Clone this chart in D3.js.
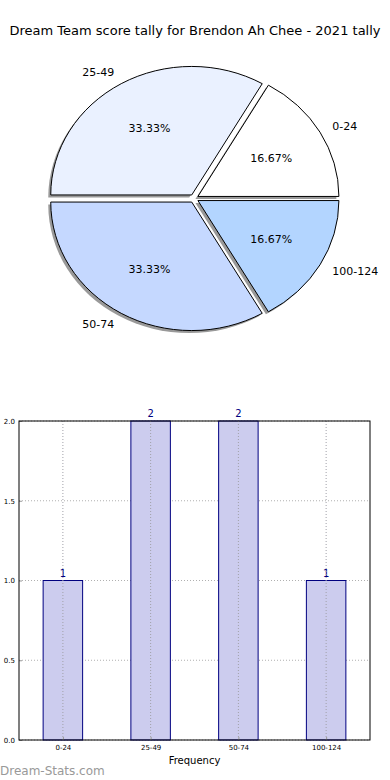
<!DOCTYPE html>
<html>
<head>
<meta charset="utf-8">
<script src="https://cdn.jsdelivr.net/npm/d3@7"></script>
<style>
  body { margin: 0; background: #fff; }
  svg { display: block; font-family: "DejaVu Sans", sans-serif; }
</style>
</head>
<body>
<div class="js-chart"></div>
<script>
// chart data
let categories = ['0-24', '25-49', '50-74', '100-124'];
let counts = [1, 2, 2, 1];
let sliceColors = ['#ffffff', '#eaf1ff', '#c5d8ff', '#b3d5ff'];
let yTicks = [0, 0.5, 1.0, 1.5, 2.0];
let titleText = 'Dream Team score tally for Brendon Ah Chee - 2021 tally';

let w = 390, h = 780;

let svg = d3.select('.js-chart').append('svg').attr('width', w).attr('height', h);

svg.append('text')
  .attr('x', 195).attr('y', 35)
  .attr('text-anchor', 'middle')
  .style('font-size', '13px')
  .text(titleText);

// ---- pie (elliptical, exploded, with shadow) ----
let cx = 194, cy = 198.5, rx = 141, ry = 128.5, explode = 0.032;
let total = d3.sum(counts);

// matplotlib starts at 3 o'clock going counter-clockwise
let pie = d3.pie().sort(null).startAngle(Math.PI / 2).endAngle(Math.PI / 2 - 2 * Math.PI);
let arcs = pie(counts);
let unitArc = d3.arc().innerRadius(0).outerRadius(1);

let pieG = svg.append('g');

function sliceOrigin(a) {
  let mid = (a.startAngle + a.endAngle) / 2;
  let ux = Math.sin(mid), uy = -Math.cos(mid);
  return {ux: ux, uy: uy, ox: cx + explode * rx * ux, oy: cy + explode * ry * uy};
}

// shadows first
arcs.forEach((a) => {
  let o = sliceOrigin(a);
  pieG.append('path')
    .attr('d', unitArc(a))
    .attr('transform', `translate(${o.ox - 2.5},${o.oy + 2.5}) scale(${rx},${ry})`)
    .style('fill', '#555')
    .style('opacity', 0.6);
});

arcs.forEach((a, i) => {
  let o = sliceOrigin(a);

  pieG.append('path')
    .attr('d', unitArc(a))
    .attr('transform', `translate(${o.ox},${o.oy}) scale(${rx},${ry})`)
    .attr('vector-effect', 'non-scaling-stroke')
    .style('fill', sliceColors[i])
    .style('stroke', '#000')
    .style('stroke-width', 1);

  // category label
  pieG.append('text')
    .attr('x', o.ox + 1.1 * rx * o.ux).attr('y', o.oy + 1.1 * ry * o.uy)
    .attr('dy', '0.35em')
    .attr('text-anchor', o.ux > 0 ? 'start' : 'end')
    .style('font-size', '11px')
    .text(categories[i]);

  // percentage label
  pieG.append('text')
    .attr('x', o.ox + 0.6 * rx * o.ux).attr('y', o.oy + 0.6 * ry * o.uy)
    .attr('dy', '0.35em')
    .attr('text-anchor', 'middle')
    .style('font-size', '11px')
    .text((counts[i] / total * 100).toFixed(2) + '%');
});

// ---- bar chart ----
let plotLeft = 19, plotRight = 370, plotTop = 421, plotBottom = 740;
let x = d3.scaleLinear().domain([-0.5, categories.length - 0.5]).range([plotLeft, plotRight]);
let y = d3.scaleLinear().domain([0, 2]).range([plotBottom, plotTop]);
let barW = 0.45;

let grid = svg.append('g');
yTicks.forEach(t => {
  grid.append('line')
    .attr('x1', plotLeft).attr('x2', plotRight).attr('y1', y(t)).attr('y2', y(t))
    .style('stroke', '#b0b0b0').style('stroke-dasharray', '1,2');
});

let bars = svg.append('g');
categories.forEach((c, i) => {
  bars.append('rect')
    .attr('x', x(i - barW / 2))
    .attr('y', y(counts[i]))
    .attr('width', x(i + barW / 2) - x(i - barW / 2))
    .attr('height', y(0) - y(counts[i]))
    .style('fill', '#ccccee')
    .style('stroke', '#000080')
    .style('stroke-width', 1);

  bars.append('text')
    .attr('x', x(i)).attr('y', y(counts[i]) - 4)
    .attr('text-anchor', 'middle')
    .style('font-size', '10px')
    .style('fill', '#000080')
    .text(counts[i]);
});

// vertical grid drawn over the bars
categories.forEach((c, i) => {
  svg.append('line')
    .attr('x1', x(i)).attr('x2', x(i)).attr('y1', plotTop).attr('y2', plotBottom)
    .style('stroke', '#a0a0a8').style('stroke-dasharray', '1,2');
});

let yAxis = svg.append('g')
  .attr('transform', `translate(${plotLeft},0)`)
  .call(d3.axisLeft(y).tickValues(yTicks).tickFormat(d3.format('.1f')).tickSize(-3).tickPadding(4));
yAxis.select('.domain').remove();
yAxis.selectAll('line').style('stroke', '#999');
yAxis.selectAll('text').style('font-size', '7px').style('font-family', '"DejaVu Sans", sans-serif');

let xAxis = svg.append('g')
  .attr('transform', `translate(0,${plotBottom})`)
  .call(d3.axisBottom(x).tickValues(d3.range(categories.length)).tickFormat(i => categories[i]).tickSize(-3).tickPadding(5));
xAxis.select('.domain').remove();
xAxis.selectAll('line').style('stroke', '#999');
xAxis.selectAll('text').style('font-size', '7px').style('font-family', '"DejaVu Sans", sans-serif');

svg.append('rect')
  .attr('x', plotLeft).attr('y', plotTop)
  .attr('width', plotRight - plotLeft).attr('height', plotBottom - plotTop)
  .style('fill', 'none').style('stroke', '#000').style('stroke-width', 1);

svg.append('text')
  .attr('x', (plotLeft + plotRight) / 2).attr('y', 764)
  .attr('text-anchor', 'middle')
  .style('font-size', '10px')
  .text('Frequency');

svg.append('text')
  .attr('x', 0).attr('y', 775)
  .style('font-size', '12px')
  .style('fill', '#999')
  .text('Dream-Stats.com');
</script>
</body>
</html>
